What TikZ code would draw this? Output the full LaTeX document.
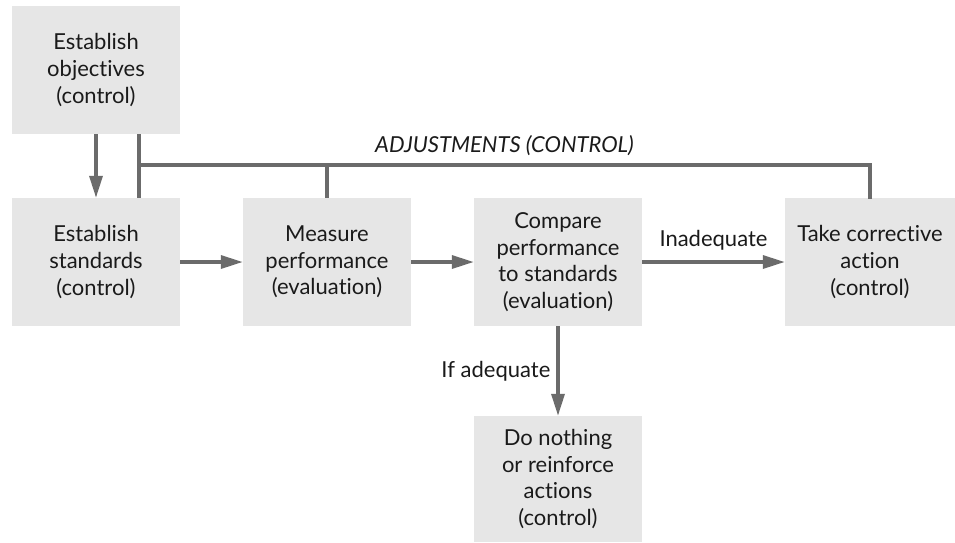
\documentclass[tikz,border=0pt]{standalone}
\usepackage{fontspec}
\setmainfont{Lato}[Ligatures={NoCommon}]
\usetikzlibrary{arrows.meta,calc}
\definecolor{boxfill}{HTML}{E6E6E6}
\definecolor{linegray}{HTML}{6B6B6B}
\definecolor{txt}{HTML}{1A1A1A}
\begin{document}
\begin{tikzpicture}[x=1pt,y=-1pt,
  every node/.style={font=\fontsize{22}{26.7}\selectfont, text=txt},
  box/.style={fill=boxfill, draw=none, align=center, minimum width=168pt, minimum height=128pt, inner sep=0pt},
  conn/.style={draw=linegray, line width=3.3pt},
  arr/.style={conn, -{Triangle[length=22pt,width=13pt]}, shorten >=0pt}]
\useasboundingbox (0,0) rectangle (955,542);
\node[box] (b1) at (96,70) {Establish\\objectives\\(control)};
\node[box] (b2) at (96,262) {Establish\\standards\\(control)};
\node[box] (b3) at (327,262) {Measure\\performance\\(evaluation)};
\node[box] (b4) at (558,262) {Compare\\performance\\to standards\\(evaluation)};
\node[box, minimum width=170pt] (b5) at (870,262) {Take corrective\\action\\(control)};
\node[box, minimum height=126pt] (b6) at (558,479) {Do nothing\\or reinforce\\actions\\(control)};
\draw[arr] (b1) -- (b2);
\draw[arr] (b2) -- (b3);
\draw[arr] (b3) -- (b4);
\draw[arr] (b4) -- node[midway, anchor=base, yshift=16pt] (lin) {Inadequate} (b5);
\draw[arr] (b4) -- node[midway, left, inner sep=6pt] (lad) {If adequate} (b6);
\coordinate (j1) at (139,165);
\coordinate (j2) at (b5.north |- j1);
\draw[conn] (b1.south -| j1) -- (b2.north -| j1);
\draw[conn, line cap=rect] (j1) -- node[midway, anchor=base, yshift=13pt] (ladj) {\itshape ADJUSTMENTS (CONTROL)} (j2) -- (b5.north);
\draw[conn] (b3.north) -- (b3.north |- j1);
\end{tikzpicture}
\end{document}
